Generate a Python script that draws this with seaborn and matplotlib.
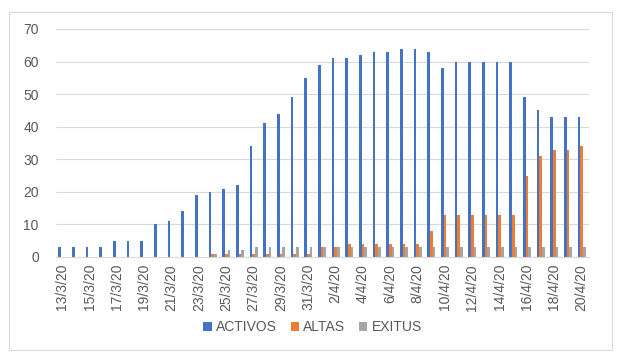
import matplotlib
matplotlib.use("Agg")
import matplotlib.pyplot as plt
import seaborn as sns
import pandas as pd
from matplotlib.patches import Rectangle

fechas = ["13/3/20", "14/3/20", "15/3/20", "16/3/20", "17/3/20", "18/3/20", "19/3/20",
          "20/3/20", "21/3/20", "22/3/20", "23/3/20", "24/3/20", "25/3/20", "26/3/20",
          "27/3/20", "28/3/20", "29/3/20", "30/3/20", "31/3/20", "1/4/20", "2/4/20",
          "3/4/20", "4/4/20", "5/4/20", "6/4/20", "7/4/20", "8/4/20", "9/4/20",
          "10/4/20", "11/4/20", "12/4/20", "13/4/20", "14/4/20", "15/4/20", "16/4/20",
          "17/4/20", "18/4/20", "19/4/20", "20/4/20"]

activos = [3, 3, 3, 3, 5, 5, 5, 10, 11, 14, 19, 20, 21, 22, 34, 41, 44, 49, 55, 59,
           61, 61, 62, 63, 63, 64, 64, 63, 58, 60, 60, 60, 60, 60, 49, 45, 43, 43, 43]
altas = [0, 0, 0, 0, 0, 0, 0, 0, 0, 0, 0, 1, 1, 1, 1, 1, 1, 1, 1, 3,
         3, 4, 4, 4, 4, 4, 4, 8, 13, 13, 13, 13, 13, 13, 25, 31, 33, 33, 34]
exitus = [0, 0, 0, 0, 0, 0, 0, 0, 0, 0, 0, 1, 2, 2, 3, 3, 3, 3, 3, 3,
          3, 3, 3, 3, 3, 3, 3, 3, 3, 3, 3, 3, 3, 3, 3, 3, 3, 3, 3]

series = ["ACTIVOS", "ALTAS", "EXITUS"]
colores = ["#4472C4", "#ED7D31", "#A5A5A5"]
yticks = [0, 10, 20, 30, 40, 50, 60, 70]

df = pd.DataFrame({
    "fecha": fechas * 3,
    "valor": activos + altas + exitus,
    "serie": [series[0]] * len(fechas) + [series[1]] * len(fechas) + [series[2]] * len(fechas),
})

sns.set_theme(style="white")
plt.rcParams["font.family"] = ["Liberation Sans", "DejaVu Sans"]

fig = plt.figure(figsize=(6.25, 3.63), dpi=100)
ax = fig.add_axes([55.5 / 625, 1 - 257 / 363, 533 / 625, 228 / 363])

sns.barplot(data=df, x="fecha", y="valor", hue="serie", order=fechas,
            hue_order=series, palette=colores, width=0.6, ax=ax,
            saturation=1, errorbar=None, legend=True, linewidth=0)

for p in ax.patches:
    p.set_antialiased(False)

ax.set_xlim(-0.5, len(fechas) - 0.5)
ax.set_ylim(0, 70)
ax.set_yticks(yticks)
ax.set_yticklabels([str(v) for v in yticks], fontsize=10, color="#595959")
ax.yaxis.grid(True, color="#d9d9d9", linewidth=0.8)
ax.set_axisbelow(True)

pos = list(range(0, len(fechas), 2))
ax.set_xticks(pos)
ax.set_xticklabels([fechas[i] for i in pos], rotation=90, fontsize=10, color="#595959")
ax.set_xticks([i + 0.5 for i in range(1, len(fechas) - 1, 2)] + [-0.5], minor=True)
ax.tick_params(axis="x", which="major", length=0, pad=5)
ax.tick_params(axis="x", which="minor", length=4, color="#d9d9d9", width=0.8)
ax.tick_params(axis="y", length=0, pad=12)
ax.set_xlabel("")
ax.set_ylabel("")
for s in ["top", "right", "left"]:
    ax.spines[s].set_visible(False)
ax.spines["bottom"].set_color("#d9d9d9")
ax.spines["bottom"].set_linewidth(0.8)

handles, labels = ax.get_legend_handles_labels()
ax.legend_.remove()
fig.legend(handles, labels, loc="center", bbox_to_anchor=(0.5, 1 - 327 / 363), ncol=3,
           frameon=False, fontsize=10, handlelength=0.6, handleheight=0.6,
           handletextpad=0.3, columnspacing=1.0, labelcolor="#595959")

fig.patches.append(Rectangle((9 / 625, 1 - 350 / 363), (612 - 9) / 625, (350 - 12) / 363,
                             transform=fig.transFigure, fill=False,
                             edgecolor="#d9d9d9", linewidth=0.8))

fig.savefig("out.png", dpi=100)
